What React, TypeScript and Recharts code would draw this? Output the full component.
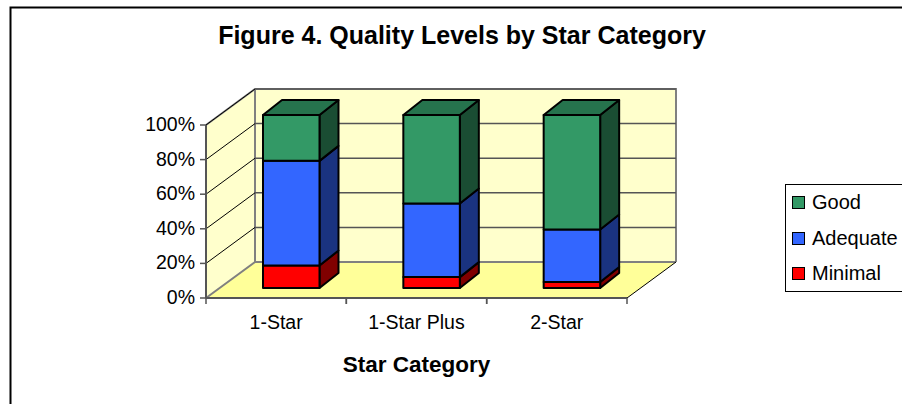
import React from "react";
import { BarChart, Bar, XAxis, YAxis, CartesianGrid, Legend } from "recharts";

const categories = ["1-Star", "1-Star Plus", "2-Star"];
const minimal = [13, 6.3, 3.5];
const adequate = [60.5, 42.5, 30.3];
const good = [26.5, 51.2, 66.2];
const yTicks = [0, 20, 40, 60, 80, 100];
const legendOrder = ["Good", "Adequate", "Minimal"];
const rows = categories.map((name, i) => ({ name, Minimal: minimal[i], Adequate: adequate[i], Good: good[i] }));

const FONT = "'Liberation Sans', Arial, sans-serif";
const W = 902, H = 404;
const L = 206, R = 627, T = 125, B = 298;
const WALL_X = 49, WALL_Y = 36;
const SHIFT_X = 15, SHIFT_Y = 10;
const DEPTH_X = 19, DEPTH_Y = 15;
const BAND = (R - L) / categories.length;
const LEGEND_W = 140;

const pts = (a: number[][]) => a.map((p) => p.join(",")).join(" ");

function Backdrop() {
  return (
    <svg width={W} height={H} style={{ position: "absolute", left: 0, top: 0 }}>
      <path d={`M10.5 ${H}V7.5H${W}`} fill="none" stroke="#000" strokeWidth={2} />
      <text x={462} y={44} textAnchor="middle" fontFamily={FONT} fontWeight={700} fontSize={25} fill="#000">
        Figure 4. Quality Levels by Star Category
      </text>
      <polygon points={pts([[L + WALL_X, T - WALL_Y], [R + WALL_X, T - WALL_Y], [R + WALL_X, B - WALL_Y], [L + WALL_X, B - WALL_Y]])} fill="#FFFFCC" />
      <polygon points={pts([[L, T], [L + WALL_X, T - WALL_Y], [L + WALL_X, B - WALL_Y], [L, B]])} fill="#FFFFCC" />
      <polygon points={pts([[L, B], [L + WALL_X, B - WALL_Y], [R + WALL_X, B - WALL_Y], [R, B]])} fill="#FFFF99" />
      <g fill="none" strokeWidth={2} stroke="#808080">
        <path d={`M${L} ${T}L${L + WALL_X} ${T - WALL_Y}H${R + WALL_X}V${B - WALL_Y}`} />
        <path d={`M${L} ${B}L${L + WALL_X} ${B - WALL_Y}V${T - WALL_Y}`} />
        <path d={`M${L + WALL_X} ${B - WALL_Y}H${R + WALL_X}`} />
        <path d={`M${R} ${B}L${R + WALL_X} ${B - WALL_Y}`} stroke="#000" strokeWidth={1} />
      </g>
    </svg>
  );
}

function gridLine(p: any) {
  if (p.y1 >= B - 0.5) return <g key="floor" />;
  return (
    <g key={p.key ?? p.y1}>
      <line x1={p.x1} y1={p.y1} x2={p.x1 + WALL_X} y2={p.y1 - WALL_Y} stroke="#000" strokeWidth={1} />
      <line x1={p.x1 + WALL_X} y1={p.y1 - WALL_Y} x2={p.x2 + WALL_X} y2={p.y1 - WALL_Y} stroke="#555" strokeWidth={1.5} />
    </g>
  );
}

const box3d = (side: string, top?: string) => (p: any) => {
  const x0 = p.x + SHIFT_X, x1 = x0 + p.width;
  const y0 = p.y - SHIFT_Y, y1 = y0 + p.height;
  const s = { stroke: "#000", strokeWidth: 2, strokeLinejoin: "round" as const };
  return (
    <g>
      <polygon {...s} fill={side} points={pts([[x1, y0], [x1 + DEPTH_X, y0 - DEPTH_Y], [x1 + DEPTH_X, y1 - DEPTH_Y], [x1, y1]])} />
      {top && <polygon {...s} fill={top} points={pts([[x0, y0], [x0 + DEPTH_X, y0 - DEPTH_Y], [x1 + DEPTH_X, y0 - DEPTH_Y], [x1, y0]])} />}
      <rect {...s} x={x0} y={y0} width={p.width} height={p.height} fill={p.fill} />
    </g>
  );
};

function CategoryTick(p: any) {
  const left = p.x - BAND / 2, right = p.x + BAND / 2;
  return (
    <g>
      <line x1={left} x2={left} y1={B} y2={B + 6} stroke="#555" strokeWidth={1.5} />
      <line x1={right} x2={right} y1={B} y2={B + 6} stroke="#555" strokeWidth={1.5} />
      <text x={p.x} y={B + 31} textAnchor="middle" fontFamily={FONT} fontSize={19.5} fill="#000">
        {p.payload.value}
      </text>
    </g>
  );
}

function LegendBox(p: any) {
  const items = legendOrder.map((n) => (p.payload ?? []).find((it: any) => it.value === n)).filter(Boolean);
  return (
    <div style={{ boxSizing: "border-box", width: LEGEND_W, height: 108, border: "1px solid #000", background: "#fff", fontFamily: FONT, fontSize: 20, color: "#000", paddingTop: 0 }}>
      {items.map((it: any) => (
        <div key={it.value} style={{ display: "flex", alignItems: "center", height: 35.5, paddingLeft: 6 }}>
          <span style={{ boxSizing: "border-box", width: 13, height: 13, border: "1.5px solid #000", background: it.color, marginRight: 7 }} />
          <span>{it.value}</span>
        </div>
      ))}
    </div>
  );
}

export default function App() {
  return (
    <div style={{ position: "absolute", left: 0, top: 0, width: W, height: H, overflow: "hidden", background: "#fff" }}>
      <Backdrop />
      <div style={{ position: "absolute", left: 0, top: 0 }}>
        <BarChart
          width={W}
          height={H}
          data={rows}
          barCategoryGap={0}
          barSize={56.5}
          margin={{ top: T, right: W - R - LEGEND_W, bottom: H - B - 60, left: 0 }}
        >
          <CartesianGrid vertical={false} horizontal={gridLine as any} />
          <XAxis
            dataKey="name"
            height={60}
            axisLine={{ stroke: "#555", strokeWidth: 2 }}
            tickLine={false}
            tick={CategoryTick as any}
            interval={0}
            label={{ value: "Star Category", position: "insideBottom", offset: -14, fontFamily: FONT, fontWeight: 700, fontSize: 22.5, fill: "#000" }}
          />
          <YAxis
            width={L}
            domain={[0, 100]}
            ticks={yTicks}
            interval={0}
            tickFormatter={(v: number) => `${v}%`}
            axisLine={{ stroke: "#555", strokeWidth: 2 }}
            tickLine={{ stroke: "#555", strokeWidth: 1.5 }}
            tickSize={6}
            tickMargin={5}
            tick={{ fontFamily: FONT, fontSize: 19.5, fill: "#000", dy: -1 }}
          />
          <Bar dataKey="Minimal" stackId="a" fill="#FF0000" isAnimationActive={false} shape={box3d("#800000") as any} />
          <Bar dataKey="Adequate" stackId="a" fill="#3366FF" isAnimationActive={false} shape={box3d("#1A3380") as any} />
          <Bar dataKey="Good" stackId="a" fill="#339966" isAnimationActive={false} shape={box3d("#1A4D33", "#26734D") as any} />
          <Legend
            layout="horizontal"
            verticalAlign="middle"
            align="right"
            content={LegendBox as any}
            wrapperStyle={{ left: 785, top: 184, width: LEGEND_W, height: 108, right: "auto", bottom: "auto" }}
          />
        </BarChart>
      </div>
    </div>
  );
}
